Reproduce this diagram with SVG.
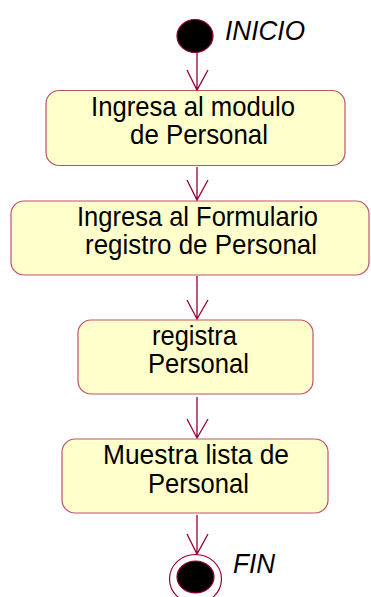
<svg xmlns="http://www.w3.org/2000/svg" width="371" height="597" viewBox="0 0 371 597">
<style>
.box{fill:#FFFFCC;stroke:#C0506E;stroke-width:1.2}
.t{font-family:"Liberation Sans",Arial,sans-serif;font-size:27.5px;fill:#000}
.lbl{font-family:"Liberation Sans",Arial,sans-serif;font-size:28px;font-style:italic;fill:#000}
.c{stroke:#990033;stroke-width:1.3;fill:none}
</style>
<rect width="371" height="597" fill="#fff"/>
<g id="start">
<ellipse cx="195" cy="36" rx="18" ry="16.5" fill="#000" stroke="#990033" stroke-width="1.2"/>
<text class="lbl" x="225" y="40" textLength="80" lengthAdjust="spacingAndGlyphs">INICIO</text>
</g>
<g id="n1">
<rect class="box" x="46" y="90.5" width="299" height="75" rx="13"/>
<text class="t" x="91" y="116" textLength="204" lengthAdjust="spacingAndGlyphs">Ingresa al modulo</text>
<text class="t" x="130" y="144" textLength="138" lengthAdjust="spacingAndGlyphs">de Personal</text>
</g>
<g id="n2">
<rect class="box" x="11" y="201" width="358" height="74" rx="13"/>
<text class="t" x="77" y="226" textLength="241" lengthAdjust="spacingAndGlyphs">Ingresa al Formulario</text>
<text class="t" x="85" y="254" textLength="232" lengthAdjust="spacingAndGlyphs">registro de Personal</text>
</g>
<g id="n3">
<rect class="box" x="78" y="320" width="235" height="74" rx="13"/>
<text class="t" x="152" y="345" textLength="85" lengthAdjust="spacingAndGlyphs">registra</text>
<text class="t" x="148" y="373" textLength="101" lengthAdjust="spacingAndGlyphs">Personal</text>
</g>
<g id="n4">
<rect class="box" x="62" y="439" width="266" height="74" rx="13"/>
<text class="t" x="103" y="464" textLength="186" lengthAdjust="spacingAndGlyphs">Muestra lista de</text>
<text class="t" x="148" y="493" textLength="101" lengthAdjust="spacingAndGlyphs">Personal</text>
</g>
<g id="end">
<ellipse cx="195.5" cy="579" rx="26" ry="24.5" fill="#fff" stroke="#990033" stroke-width="1.2"/>
<ellipse cx="195.5" cy="577" rx="18.5" ry="16" fill="#000" stroke="#990033" stroke-width="1.2"/>
<text class="lbl" x="233" y="573" textLength="42" lengthAdjust="spacingAndGlyphs">FIN</text>
</g>
<g id="connectors">
<path class="c" d="M197,53 V90 M187,70 L197,90 L208,70"/>
<path class="c" d="M197,167 V200 M187,180 L197,200 L208,180"/>
<path class="c" d="M197,276 V319 M187,300 L197,319 L208,300"/>
<path class="c" d="M197,397 V438 M187,419 L197,438 L208,419"/>
<path class="c" d="M197,515 V554 M187,534 L197,554 L208,534"/>
</g>
</svg>
